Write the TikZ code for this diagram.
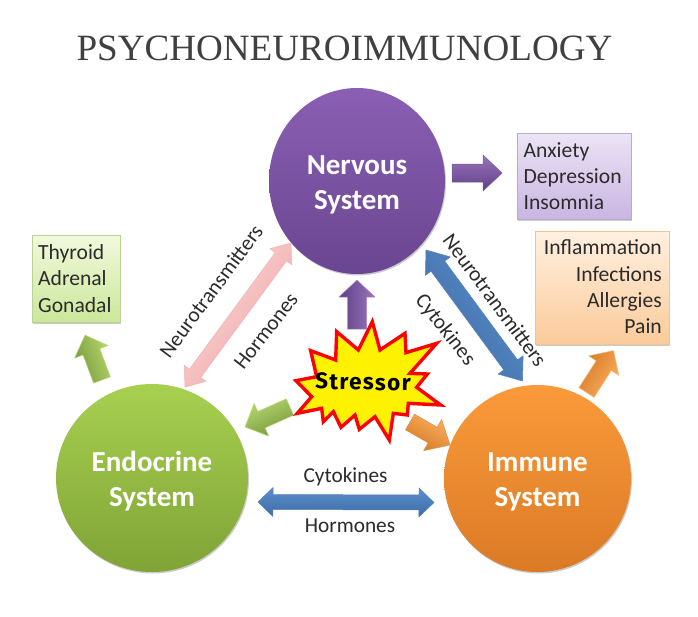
\documentclass[tikz,border=0pt]{standalone}
\usepackage{fontspec}
\setmainfont{Carlito}
\newfontfamily\titlefont{Liberation Serif}
\newfontfamily\stressfont[LetterSpace=6]{Fira Sans}
\usetikzlibrary{calc,shadows,shapes.geometric}
\definecolor{txt}{HTML}{2B2B2B}
\definecolor{NervTop}{HTML}{8A5FB4}\definecolor{NervBot}{HTML}{6A4590}
\definecolor{EndoTop}{HTML}{A8D050}\definecolor{EndoBot}{HTML}{7FA336}
\definecolor{ImmTop}{HTML}{FA9A3A}\definecolor{ImmBot}{HTML}{DB7A25}
\definecolor{BlueTop}{HTML}{5B8FCB}\definecolor{BlueBot}{HTML}{3E6CA8}
\definecolor{PinkTop}{HTML}{FBD8D8}\definecolor{PinkBot}{HTML}{EFA5A5}
\definecolor{ArrPurL}{HTML}{9A74BC}\definecolor{ArrPurD}{HTML}{5F3F85}
\definecolor{ArrGrnL}{HTML}{B5D66F}\definecolor{ArrGrnD}{HTML}{77983A}
\definecolor{ArrOrgL}{HTML}{FBB060}\definecolor{ArrOrgD}{HTML}{D67A26}
\definecolor{BoxPurT}{HTML}{ECE4F5}\definecolor{BoxPurB}{HTML}{C9B5E2}
\definecolor{BoxOrgT}{HTML}{FFF0E0}\definecolor{BoxOrgB}{HTML}{FBCB9A}
\definecolor{BoxGrnT}{HTML}{F1F9DC}\definecolor{BoxGrnB}{HTML}{CBE79A}
\newcommand{\blockarrow}[7]{% from, to, shaft half, head half, head len, light, dark
  \path let \p1=($(#2)-(#1)$), \n1={atan2(\y1,\x1)}, \n2={veclen(\x1,\y1)} in
    \pgfextra{\xdef\barang{\n1}\xdef\barlen{\n2}};
  \begin{scope}[shift={(#1)},rotate=\barang,x=1pt,y=1pt]
    \pgfmathsetmacro{\barshaft}{\barlen-#5}
    \pgfmathsetmacro{\barlenv}{\barlen}
    \shade[draw=#7!85!white,line width=0.5pt,shading=axis,top color=#6,bottom color=#7,shading angle=\barang,line join=round]
      (0,-#3) -- (\barshaft,-#3) -- (\barshaft,-#4) -- (\barlenv,0) -- (\barshaft,#4) -- (\barshaft,#3) -- (0,#3) -- cycle;
  \end{scope}}
\newcommand{\doublearrow}[7]{%
  \path let \p1=($(#2)-(#1)$), \n1={atan2(\y1,\x1)}, \n2={veclen(\x1,\y1)} in
    \pgfextra{\xdef\barang{\n1}\xdef\barlen{\n2}};
  \begin{scope}[shift={(#1)},rotate=\barang,x=1pt,y=1pt]
    \pgfmathsetmacro{\barshaft}{\barlen-#5}
    \pgfmathsetmacro{\barlenv}{\barlen}
    \shade[draw=#7!85!white,line width=0.5pt,shading=axis,top color=#6,bottom color=#7,shading angle=\barang,line join=round]
      (0,0) -- (#5,-#4) -- (#5,-#3) -- (\barshaft,-#3) -- (\barshaft,-#4) -- (\barlenv,0) -- (\barshaft,#4) -- (\barshaft,#3) -- (#5,#3) -- (#5,#4) -- cycle;
  \end{scope}}
\tikzset{
  sysball/.style={ellipse,inner sep=0pt},
  systext/.style={inner sep=0pt,text=white,align=center,
    font=\fontsize{29}{35.5}\selectfont\bfseries},
  infobox/.style={rectangle,inner sep=0pt,
    font=\fontsize{21.6}{26.3}\selectfont,text=txt},
  panel/.style={rectangle,inner sep=0pt,line width=.8pt},
  linklabel/.style={inner sep=0pt,text=txt,font=\fontsize{21.3}{24}\selectfont},
  softshadow/.style={general shadow={shadow xshift=1pt,shadow yshift=-1.5pt,fill=black,opacity=.2}}
}
\begin{document}
\begin{tikzpicture}[x=1pt,y=-1pt]
\useasboundingbox (0,0) rectangle (698,616);
\fill[white] (0,0) rectangle (698,616);

\node[inner sep=0pt,text=txt!90!white,font=\fontsize{37.1}{40}\selectfont\titlefont] (title) at (344.5,48) {PSYCHONEUROIMMUNOLOGY};

% info boxes
\node[panel,softshadow,draw=BoxPurB!80!gray,top color=BoxPurT,bottom color=BoxPurB,minimum width=114pt,minimum height=86pt] (anx) at (574,176) {};
\node[panel,softshadow,draw=BoxOrgB!90!gray,top color=BoxOrgT,bottom color=BoxOrgB,minimum width=134pt,minimum height=113pt] (inf) at (602,287.5) {};
\node[panel,softshadow,draw=BoxGrnB!80!gray,top color=BoxGrnT,bottom color=BoxGrnB,minimum width=88pt,minimum height=87pt] (thy) at (76,278.5) {};

\node[infobox,align=left,anchor=west] (anxt) at (523.5,176) {Anxiety\\Depression\\Insomnia};
\node[infobox,align=right,anchor=east] (inft) at (662,287) {Inflammation\\Infections\\Allergies\\Pain};
\node[infobox,align=left,anchor=west] (thyt) at (38,278.5) {Thyroid\\Adrenal\\Gonadal};

% system circles
\node[sysball,minimum width=176pt,minimum height=186pt,softshadow,top color=NervTop,bottom color=NervBot] (nervous) at (357,181) {};
\node[sysball,minimum width=192pt,minimum height=188pt,softshadow,top color=EndoTop,bottom color=EndoBot] (endocrine) at (152,478) {};
\node[sysball,minimum width=187pt,minimum height=187pt,softshadow,top color=ImmTop,bottom color=ImmBot] (immune) at (537.5,478.5) {};
\node[systext] (nervoust) at (357,185) {Nervous\\System};
\node[systext] (endocrinet) at (152,481) {Endocrine\\System};
\node[systext] (immunet) at (537.5,482) {Immune\\System};

% stressor centre
\coordinate (stress) at (368,382);

% connectors between systems
\doublearrow{$(nervous.center)+(69,69)$}{$(immune.center)+(-15,-97.5)$}{8.5}{15.5}{20}{BlueTop}{BlueBot}
\doublearrow{$(endocrine.center)+(33,-91)$}{$(nervous.center)+(-66,62)$}{7}{13.5}{17}{PinkTop}{PinkBot}
\doublearrow{$(endocrine.center)+(106,24)$}{$(immune.center)+(-103.5,24)$}{7.5}{14.5}{15}{BlueTop}{BlueBot}

% outcome arrows
\blockarrow{$(nervous.center)+(95,-8)$}{$(nervous.center)+(145,-8)$}{9}{18}{19}{ArrPurL}{ArrPurD}
\blockarrow{$(endocrine.center)+(-50,-98)$}{$(endocrine.center)+(-67,-143)$}{9}{18}{18}{ArrGrnD}{ArrGrnL}
\blockarrow{$(immune.center)+(49,-86)$}{$(immune.center)+(76,-128)$}{9}{18}{18}{ArrOrgD}{ArrOrgL}

% stressor arrows
\blockarrow{$(stress)+(-11,-53)$}{$(nervous.center)+(0,99)$}{9.5}{18}{17}{ArrPurD}{ArrPurL}
\blockarrow{$(stress)+(-78,25)$}{$(endocrine.center)+(93,-51)$}{9}{18}{18}{ArrGrnD}{ArrGrnL}
\blockarrow{$(stress)+(42,40)$}{$(immune.center)+(-87.5,-33.5)$}{9}{18}{20}{ArrOrgL}{ArrOrgD}

% stressor burst
\begin{scope}[shift={(270,300)},x=.3333pt,y=-.3333pt]
\draw[fill=yellow,draw=red,line width=3.4pt,line join=miter,miter limit=6]
 (307,65)--(330,150)--(405,100)--(408,158)--(500,130)--(420,220)--(472,222)--(440,262)--(512,315)--(415,310)--(412,345)--(370,340)--(358,420)--(315,350)--(268,388)--(255,345)--(213,382)--(190,335)--(160,365)--(155,325)--(82,340)--(125,290)--(78,242)--(140,230)--(122,152)--(197,180)--(200,95)--(265,150)--cycle;
\end{scope}
\node[inner sep=0pt,rotate=-1,text=black,font=\fontsize{22.5}{25}\selectfont\stressfont\bfseries] (stressor) at (363,382) {Stressor};

% connector labels
\node[linklabel,rotate=53.5] (ln1) at (211,291) {Neurotransmitters};
\node[linklabel,rotate=52] (lh1) at (266,331) {Hormones};
\node[linklabel,rotate=-53.5] (ln2) at (495,300) {Neurotransmitters};
\node[linklabel,rotate=-52] (lc1) at (445,330) {Cytokines};
\node[linklabel] (lc2) at (345.5,477) {Cytokines};
\node[linklabel] (lh2) at (350,526) {Hormones};
\end{tikzpicture}
\end{document}
